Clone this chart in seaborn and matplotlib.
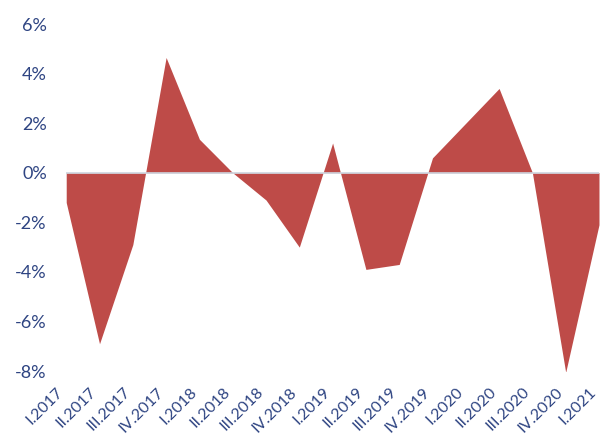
import matplotlib
matplotlib.use("Agg")
import matplotlib.pyplot as plt
import matplotlib.transforms as mtransforms
import seaborn as sns
import pandas as pd
from matplotlib.ticker import PercentFormatter

# quarterly growth rates
quarters = ["I.2017", "II.2017", "III.2017", "IV.2017",
            "I.2018", "II.2018", "III.2018", "IV.2018",
            "I.2019", "II.2019", "III.2019", "IV.2019",
            "I.2020", "II.2020", "III.2020", "IV.2020", "I.2021"]
growth = [-1.2, -6.9, -2.9, 4.65, 1.35, 0.0, -1.1, -3.0,
          1.2, -3.9, -3.7, 0.6, 2.0, 3.4, 0.0, -8.05, -2.1]

fill_color = "#BE4B48"
text_color = "#2E4482"

df = pd.DataFrame({"pos": range(len(quarters)), "growth": growth})

sns.set_style("white")
plt.rcParams["font.family"] = ["Lato", "DejaVu Sans"]
plt.rcParams["axes.unicode_minus"] = False

fig = plt.figure(figsize=(6.02, 4.37), dpi=100)
ax = fig.add_axes([0.11, 0.151, 0.885, 0.794])

sns.lineplot(data=df, x="pos", y="growth", ax=ax, color=fill_color, linewidth=0)
ax.fill_between(df["pos"], 0, df["growth"], color=fill_color, linewidth=0)
ax.axhline(0, color="#CDD4DE", linewidth=1.2, zorder=3)

ax.set_xlim(0, len(quarters) - 1)
ax.set_ylim(-8, 6)
ax.set_yticks(range(-8, 7, 2))
ax.yaxis.set_major_formatter(PercentFormatter(decimals=0))
ax.set_xticks(df["pos"])
ax.set_xticklabels(quarters, rotation=45, ha="right", rotation_mode="anchor")
ax.tick_params(axis="y", labelsize=13, colors=text_color, length=0, pad=14)
ax.tick_params(axis="x", labelsize=11.5, colors=text_color, length=0, pad=10)

# nudge x labels a little left so the last one stays inside the figure
shift = mtransforms.ScaledTranslation(-10 / 100, 0, fig.dpi_scale_trans)
for lbl in ax.get_xticklabels():
    lbl.set_transform(lbl.get_transform() + shift)

ax.set_xlabel("")
ax.set_ylabel("")
sns.despine(ax=ax, left=True, bottom=True)

plt.savefig("out.png", dpi=100)
plt.close()
